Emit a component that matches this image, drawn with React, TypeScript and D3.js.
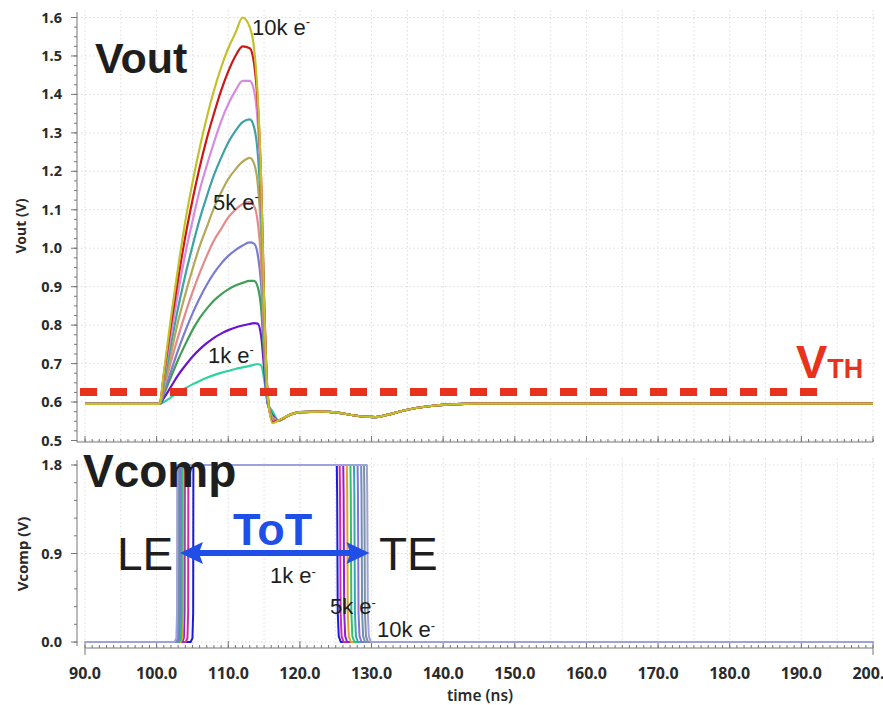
import React from 'react';
import * as d3 from 'd3';

// Collected charge for each simulated event
const CHARGES = ['1k', '2k', '3k', '4k', '5k', '6k', '7k', '8k', '9k', '10k'];

// Preamplifier output, pulse region (ns)
const VOUT_TIME = [90, 100.4, 101, 102, 103, 104, 105, 106, 107, 108, 109, 110, 111, 112, 113, 113.6, 114.1, 114.6, 115.0, 115.5, 116.2];
const VOUT_1K = [0.595, 0.595, 0.6, 0.612, 0.625, 0.636, 0.646, 0.655, 0.663, 0.67, 0.676, 0.681, 0.686, 0.69, 0.694, 0.697, 0.699, 0.695, 0.66, 0.6, 0.575];
const VOUT_2K = [0.595, 0.595, 0.61, 0.64, 0.67, 0.695, 0.718, 0.737, 0.753, 0.767, 0.778, 0.787, 0.794, 0.799, 0.803, 0.805, 0.804, 0.77, 0.69, 0.595, 0.566];
const VOUT_3K = [0.595, 0.595, 0.62, 0.665, 0.71, 0.75, 0.787, 0.818, 0.843, 0.864, 0.88, 0.893, 0.903, 0.91, 0.915, 0.915, 0.9, 0.84, 0.72, 0.6, 0.563];
const VOUT_4K = [0.595, 0.595, 0.625, 0.68, 0.735, 0.785, 0.83, 0.87, 0.905, 0.935, 0.96, 0.98, 0.995, 1.007, 1.015, 1.012, 0.985, 0.9, 0.75, 0.605, 0.56];
const VOUT_5K = [0.595, 0.595, 0.635, 0.705, 0.77, 0.83, 0.885, 0.935, 0.98, 1.02, 1.05, 1.08, 1.1, 1.115, 1.12, 1.11, 1.07, 0.96, 0.78, 0.61, 0.558];
const VOUT_6K = [0.595, 0.595, 0.64, 0.725, 0.81, 0.88, 0.945, 1.005, 1.055, 1.105, 1.145, 1.18, 1.205, 1.225, 1.235, 1.22, 1.17, 1.03, 0.81, 0.612, 0.555];
const VOUT_7K = [0.595, 0.595, 0.65, 0.75, 0.845, 0.93, 1.005, 1.075, 1.135, 1.19, 1.235, 1.275, 1.305, 1.328, 1.335, 1.315, 1.25, 1.09, 0.84, 0.615, 0.552];
const VOUT_8K = [0.595, 0.595, 0.66, 0.775, 0.885, 0.985, 1.07, 1.15, 1.215, 1.275, 1.33, 1.375, 1.41, 1.435, 1.435, 1.41, 1.33, 1.14, 0.86, 0.62, 0.55];
const VOUT_9K = [0.595, 0.595, 0.67, 0.8, 0.92, 1.03, 1.125, 1.21, 1.285, 1.35, 1.41, 1.46, 1.5, 1.525, 1.52, 1.48, 1.38, 1.17, 0.87, 0.62, 0.548];
const VOUT_10K = [0.595, 0.595, 0.675, 0.82, 0.95, 1.07, 1.17, 1.26, 1.34, 1.41, 1.47, 1.52, 1.56, 1.6, 1.575, 1.52, 1.4, 1.17, 0.86, 0.62, 0.545];
const VOUT_SERIES = [VOUT_1K, VOUT_2K, VOUT_3K, VOUT_4K, VOUT_5K, VOUT_6K, VOUT_7K, VOUT_8K, VOUT_9K, VOUT_10K];

// Common undershoot and recovery after the pulse
const TAIL_TIME = [117, 118.5, 120, 123, 125, 127, 129, 130.5, 132, 135, 138, 141, 145, 160, 200];
const TAIL_V = [0.552, 0.566, 0.574, 0.575, 0.573, 0.567, 0.562, 0.561, 0.566, 0.58, 0.589, 0.594, 0.596, 0.596, 0.596];

const VOUT_COLORS = ['#2fd3a0', '#6a14d2', '#3f9f55', '#7a7cd0', '#e48a8a', '#b4a85a', '#3ea2a2', '#d68ae0', '#cc1818', '#c4c02a'];

// Comparator output: leading and trailing edge times (ns)
const VCOMP_LE = [105.1, 104.4, 103.9, 103.7, 103.5, 103.3, 103.2, 103.05, 102.95, 102.85];
const VCOMP_TE = [125.2, 125.6, 126.1, 126.6, 127.1, 127.6, 128.1, 128.6, 129.0, 129.4];
const VCOMP_HIGH = 1.8;
const VCOMP_COLORS = ['#1a1ae0', '#d42aa0', '#8b1fd8', '#e8a020', '#2fbf6f', '#30a8b0', '#8a6ee0', '#6d8fb8', '#7f8fa0', '#9ea2dc'];

const THRESHOLD = 0.626;

const X_TICKS = [90, 100, 110, 120, 130, 140, 150, 160, 170, 180, 190, 200];
const VOUT_TICKS = [0.5, 0.6, 0.7, 0.8, 0.9, 1.0, 1.1, 1.2, 1.3, 1.4, 1.5, 1.6];
const VCOMP_TICKS = [0, 0.9, 1.8];

const W = 883;
const H = 705;
const LEFT = 77;
const RIGHT = 876;

const tickFont = '"Noto Sans", "Open Sans", sans-serif';
const annoFont = '"Liberation Sans", Arial, sans-serif';

export default function App() {
  const x = d3.scaleLinear().domain([90, 200]).range([85, 873]);
  const yTop = d3.scaleLinear().domain([0.5, 1.6]).range([440.5, 17.5]);
  const yBot = d3.scaleLinear().domain([0, 1.8]).range([642, 465]);

  const voutLine = d3
    .line<[number, number]>()
    .x((d) => x(d[0]))
    .y((d) => yTop(d[1]))
    .curve(d3.curveMonotoneX);

  const vcompLine = d3
    .line<[number, number]>()
    .x((d) => x(d[0]))
    .y((d) => yBot(d[1]))
    .curve(d3.curveLinear);

  const voutPaths = VOUT_SERIES.map((vals) => {
    const pts: [number, number][] = VOUT_TIME.map((t, i) => [t, vals[i]]);
    TAIL_TIME.forEach((t, i) => pts.push([t, TAIL_V[i]]));
    return voutLine(pts) as string;
  });

  const vcompPaths = CHARGES.map((_, i) => {
    const le = VCOMP_LE[i];
    const te = VCOMP_TE[i];
    const pts: [number, number][] = [
      [90, 0],
      [le - 0.35, 0],
      [le - 0.1, 0.04],
      [le, 0.3],
      [le + 0.03, VCOMP_HIGH],
      [te - 0.05, VCOMP_HIGH],
      [te, 1.5],
      [te + 0.08, 0.3],
      [te + 0.22, 0.06],
      [te + 0.5, 0],
      [200, 0],
    ];
    return vcompLine(pts) as string;
  });

  const minorX = d3.range(90, 200.01, 1);
  const gridX = d3.range(90, 200.01, 5);
  const minorTop = d3.range(0.5, 1.6001, 0.025);
  const minorBot = d3.range(0, 1.8001, 0.18);

  const arrowY = 553;
  const ax0 = x(103.25);
  const ax1 = x(129.7);

  return (
    <svg width={W} height={H} style={{ position: 'absolute', left: 0, top: 0, background: '#fff' }}>
      <defs>
        <clipPath id="clipTop">
          <rect x={LEFT} y={6} width={RIGHT - LEFT} height={436} />
        </clipPath>
        <clipPath id="clipBot">
          <rect x={LEFT} y={455} width={RIGHT - LEFT} height={192} />
        </clipPath>
      </defs>

      {/* grid */}
      <g stroke="#dcdcdc" strokeWidth={1} strokeDasharray="1.5,2.5">
        {gridX.map((t) => (
          <line key={'gt' + t} x1={x(t)} x2={x(t)} y1={10} y2={442} />
        ))}
        {gridX.map((t) => (
          <line key={'gb' + t} x1={x(t)} x2={x(t)} y1={458} y2={646} />
        ))}
        {VOUT_TICKS.map((v) => (
          <line key={'gh' + v} x1={LEFT} x2={RIGHT} y1={yTop(v)} y2={yTop(v)} />
        ))}
        {VCOMP_TICKS.map((v) => (
          <line key={'ghb' + v} x1={LEFT} x2={RIGHT} y1={yBot(v)} y2={yBot(v)} />
        ))}
      </g>

      {/* Vout axes */}
      <g stroke="#777" strokeWidth={1}>
        <line x1={LEFT} x2={LEFT} y1={12} y2={442} />
        <line x1={LEFT} x2={RIGHT - 3} y1={442} y2={442} />
        {minorTop.map((v) => (
          <line key={'mt' + v} x1={LEFT - 3} x2={LEFT} y1={yTop(v)} y2={yTop(v)} />
        ))}
        {VOUT_TICKS.map((v) => (
          <line key={'Mt' + v} x1={LEFT - 6} x2={LEFT} y1={yTop(v)} y2={yTop(v)} />
        ))}
        {minorX.map((t) => (
          <line key={'mx1' + t} x1={x(t)} x2={x(t)} y1={442} y2={439} />
        ))}
        {X_TICKS.map((t) => (
          <line key={'Mx1' + t} x1={x(t)} x2={x(t)} y1={442} y2={436} />
        ))}
      </g>

      {/* Vcomp axes */}
      <g stroke="#777" strokeWidth={1}>
        <line x1={LEFT} x2={LEFT} y1={460} y2={646} />
        <line x1={x(90)} x2={x(200)} y1={648} y2={648} />
        {minorBot.map((v) => (
          <line key={'mb' + v} x1={LEFT - 3} x2={LEFT} y1={yBot(v)} y2={yBot(v)} />
        ))}
        {VCOMP_TICKS.map((v) => (
          <line key={'Mb' + v} x1={LEFT - 6} x2={LEFT} y1={yBot(v)} y2={yBot(v)} />
        ))}
        {minorX.map((t) => (
          <line key={'mx2' + t} x1={x(t)} x2={x(t)} y1={648} y2={645} />
        ))}
        {X_TICKS.map((t) => (
          <line key={'Mx2' + t} x1={x(t)} x2={x(t)} y1={648} y2={641} />
        ))}
        {[90, 200].map((t) => (
          <line key={'end' + t} x1={x(t)} x2={x(t)} y1={648} y2={655} />
        ))}
      </g>

      {/* tick labels */}
      <g fontFamily={tickFont} fontWeight={700} fill="#2a2a2a">
        {VOUT_TICKS.map((v) => (
          <text key={'lt' + v} x={62} y={yTop(v) + 5} fontSize={14.5} textAnchor="end">
            {v.toFixed(1)}
          </text>
        ))}
        {VCOMP_TICKS.map((v) => (
          <text key={'lb' + v} x={62} y={yBot(v) + 5} fontSize={14.5} textAnchor="end">
            {v.toFixed(1)}
          </text>
        ))}
        {X_TICKS.map((t) => (
          <text key={'lx' + t} x={x(t)} y={679} fontSize={16} textAnchor="middle">
            {t.toFixed(1)}
          </text>
        ))}
        <text x={480} y={701} fontSize={15.5} fontWeight={600} textAnchor="middle">
          time (ns)
        </text>
        <text transform="translate(26,226) rotate(-90)" fontSize={14} textAnchor="middle">
          Vout (V)
        </text>
        <text transform="translate(28,554) rotate(-90)" fontSize={15} textAnchor="middle">
          Vcomp (V)
        </text>
      </g>

      {/* Vout traces */}
      <g clipPath="url(#clipTop)" fill="none" strokeWidth={2.2} strokeLinejoin="round">
        {voutPaths.map((d, i) => (
          <path key={'vo' + i} d={d} stroke={VOUT_COLORS[i]} />
        ))}
      </g>

      {/* threshold */}
      <line
        x1={80}
        x2={818}
        y1={yTop(THRESHOLD)}
        y2={yTop(THRESHOLD)}
        stroke="#e8321e"
        strokeWidth={8}
        strokeDasharray="17,13"
      />

      {/* Vcomp traces */}
      <g clipPath="url(#clipBot)" fill="none" strokeWidth={2} strokeLinejoin="round">
        {vcompPaths.map((d, i) => (
          <path key={'vc' + i} d={d} stroke={VCOMP_COLORS[i]} />
        ))}
      </g>

      {/* panel titles */}
      <text x={95} y={73} fontFamily={annoFont} fontWeight={700} fontSize={43} fill="#1e1e1e">
        Vout
      </text>
      <text x={83} y={487} fontFamily={annoFont} fontWeight={700} fontSize={46} fill="#1e1e1e">
        Vcomp
      </text>

      {/* charge annotations */}
      <g fontFamily={annoFont} fontSize={22} fill="#1e1e1e">
        <text x={252} y={35}>
          10k e<tspan fontSize={13} dy={-9}>-</tspan>
        </text>
        <text x={213} y={210}>
          5k e<tspan fontSize={13} dy={-9}>-</tspan>
        </text>
        <text x={208} y={363}>
          1k e<tspan fontSize={13} dy={-9}>-</tspan>
        </text>
        <text x={270} y={583}>
          1k e<tspan fontSize={13} dy={-7}>-</tspan>
        </text>
        <text x={330} y={614}>
          5k e<tspan fontSize={13} dy={-7}>-</tspan>
        </text>
        <text x={377} y={637}>
          10k e<tspan fontSize={13} dy={-7}>-</tspan>
        </text>
      </g>

      {/* threshold label */}
      <text x={796} y={378} fontFamily={annoFont} fontWeight={700} fill="#e8321e">
        <tspan fontSize={47}>V</tspan>
        <tspan fontSize={27}>TH</tspan>
      </text>

      {/* time-over-threshold arrow */}
      <g fill="#1f4fe6">
        <line x1={ax0 + 18} x2={ax1 - 18} y1={arrowY} y2={arrowY} stroke="#1f4fe6" strokeWidth={6} />
        <polygon points={`${ax0},${arrowY} ${ax0 + 23},${arrowY - 11} ${ax0 + 19},${arrowY} ${ax0 + 23},${arrowY + 11}`} />
        <polygon points={`${ax1},${arrowY} ${ax1 - 23},${arrowY - 11} ${ax1 - 19},${arrowY} ${ax1 - 23},${arrowY + 11}`} />
        <text x={233} y={545} fontFamily={annoFont} fontWeight={700} fontSize={45}>
          ToT
        </text>
      </g>
      <g fontFamily={annoFont} fontSize={46} fill="#1e1e1e">
        <text x={117} y={570}>LE</text>
        <text x={379} y={570}>TE</text>
      </g>
    </svg>
  );
}
